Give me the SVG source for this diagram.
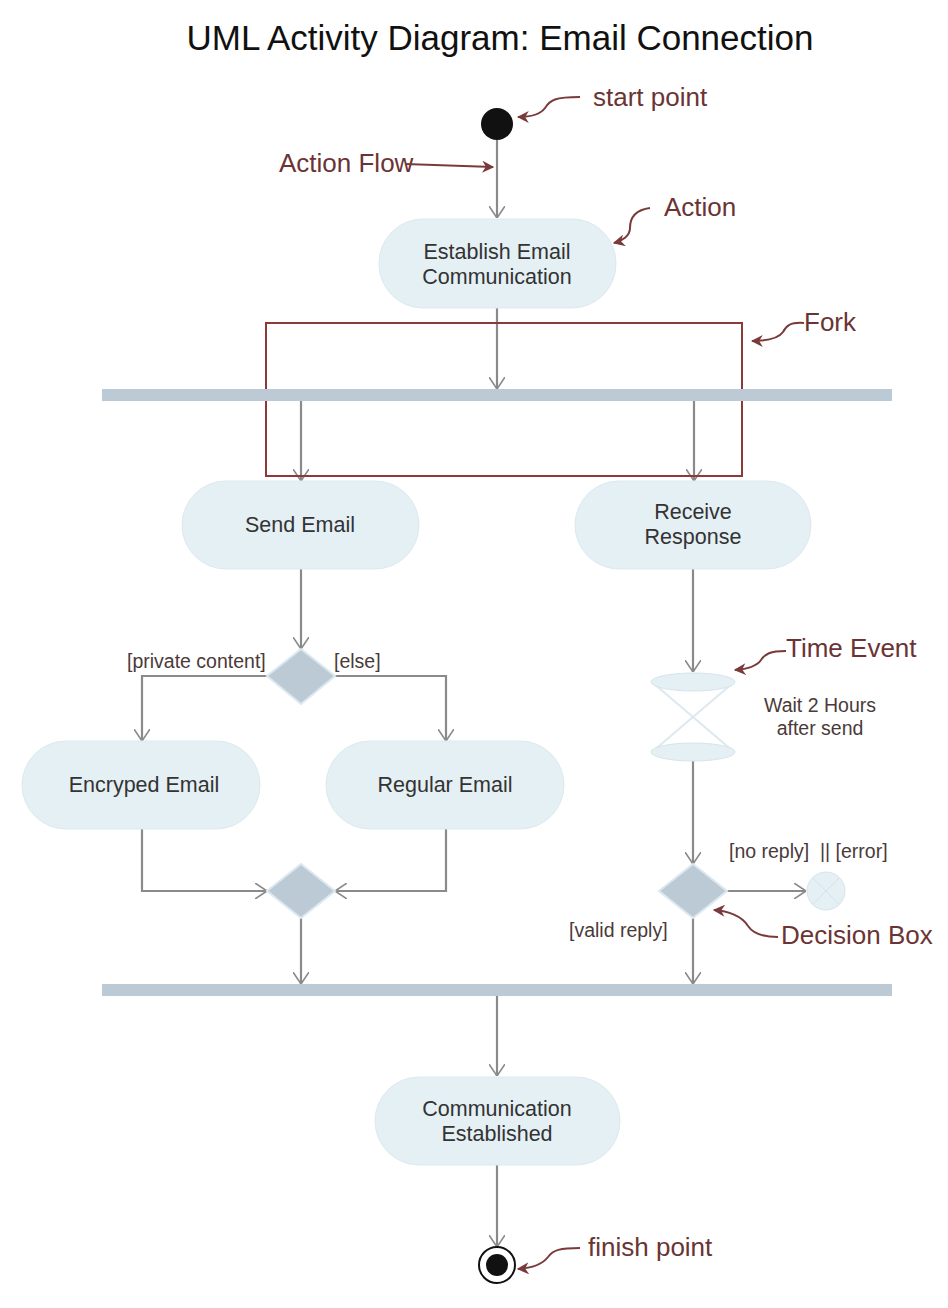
<svg xmlns="http://www.w3.org/2000/svg" width="948" height="1308" viewBox="0 0 948 1308">
<defs>
<marker id="open" viewBox="0 0 12 16" refX="12" refY="8" markerWidth="12" markerHeight="16" markerUnits="userSpaceOnUse" orient="auto">
<path d="M0,0 L12,8 L0,16" fill="none" stroke="#8a8a8a" stroke-width="1.6"/>
</marker>
<marker id="ann" viewBox="0 0 10 10" refX="9" refY="5" markerWidth="12" markerHeight="12" markerUnits="userSpaceOnUse" orient="auto">
<path d="M0,0 L10,5 L0,10 L3,5 Z" fill="#7a3a3a"/>
</marker>
<style>
.flow{fill:none;stroke:#8a8a8a;stroke-width:2.2}
.act{fill:#e5f0f5;stroke:#dde9ef;stroke-width:1}
.bar{fill:#bccad6}
.dia{fill:#bccad6;stroke:#dbe8ef;stroke-width:2}
.t{font-family:"Liberation Sans",Arial,sans-serif;font-size:21.5px;fill:#333;text-anchor:middle}
.g{font-family:"Liberation Sans",Arial,sans-serif;font-size:19.5px;fill:#4a3a3a}
.a{font-family:"Liberation Sans",Arial,sans-serif;font-size:26px;fill:#6b3434}
.al{fill:none;stroke:#7a3a3a;stroke-width:2}
</style>
</defs>
<rect width="948" height="1308" fill="#fff"/>
<text x="500" y="50" font-family="Liberation Sans,Arial,sans-serif" font-size="35" text-anchor="middle" fill="#111">UML Activity Diagram: Email Connection</text>

<g id="connectors">
<path class="flow" d="M497,140 V218" marker-end="url(#open)"/>
<path class="flow" d="M497,308 V389" marker-end="url(#open)"/>
<path class="flow" d="M301,401 V481" marker-end="url(#open)"/>
<path class="flow" d="M694,401 V481" marker-end="url(#open)"/>
<path class="flow" d="M301,569 V649" marker-end="url(#open)"/>
<path class="flow" d="M267,676 H142 V741" marker-end="url(#open)"/>
<path class="flow" d="M335,676 H446 V741" marker-end="url(#open)"/>
<path class="flow" d="M142,829 V891 H267" marker-end="url(#open)"/>
<path class="flow" d="M446,829 V891 H335" marker-end="url(#open)"/>
<path class="flow" d="M301,918 V984" marker-end="url(#open)"/>
<path class="flow" d="M693,569 V672" marker-end="url(#open)"/>
<path class="flow" d="M693,761 V864" marker-end="url(#open)"/>
<path class="flow" d="M727,891 H806" marker-end="url(#open)"/>
<path class="flow" d="M693,918 V984" marker-end="url(#open)"/>
<path class="flow" d="M497,996 V1076" marker-end="url(#open)"/>
<path class="flow" d="M497,1165 V1247" marker-end="url(#open)"/>
</g>

<g id="fork-highlight">
<rect x="266" y="323" width="476" height="153" fill="none" stroke="#8b3a3a" stroke-width="2"/>
</g>

<g id="start"><circle cx="497" cy="124" r="16" fill="#111"/></g>

<g id="establish">
<rect class="act" x="379" y="219" width="237" height="89" rx="44"/>
<text class="t" x="497" y="259">Establish Email</text>
<text class="t" x="497" y="284">Communication</text>
</g>

<g id="fork"><rect class="bar" x="102" y="389" width="790" height="12"/></g>

<g id="send">
<rect class="act" x="182" y="481" width="237" height="88" rx="44"/>
<text class="t" x="300" y="532">Send Email</text>
</g>

<g id="receive">
<rect class="act" x="575" y="481" width="236" height="88" rx="44"/>
<text class="t" x="693" y="519">Receive</text>
<text class="t" x="693" y="544">Response</text>
</g>

<g id="decision1">
<polygon class="dia" points="301,649 335,676 301,704 267,676"/>
<text class="g" x="127" y="668">[private content]</text>
<text class="g" x="334" y="668">[else]</text>
</g>

<g id="encrypted">
<rect class="act" x="22" y="741" width="238" height="88" rx="44"/>
<text class="t" x="144" y="792">Encryped Email</text>
</g>

<g id="regular">
<rect class="act" x="326" y="741" width="238" height="88" rx="44"/>
<text class="t" x="445" y="792">Regular Email</text>
</g>

<g id="merge">
<polygon class="dia" points="301,864 335,891 301,918 267,891"/>
</g>

<g id="time-event">
<path d="M652,682 L734,752 M734,682 L652,752" stroke="#dce9f0" stroke-width="2" fill="none"/>
<ellipse cx="693" cy="682" rx="42" ry="9" fill="#e5f0f5" stroke="#d6e4ec"/>
<ellipse cx="693" cy="752" rx="42" ry="9" fill="#e5f0f5" stroke="#d6e4ec"/>
<text class="g" x="820" y="712" text-anchor="middle">Wait 2 Hours</text>
<text class="g" x="820" y="735" text-anchor="middle">after send</text>
</g>

<g id="decision2">
<polygon class="dia" points="693,864 727,891 693,918 659,891"/>
<text class="g" x="729" y="858" style="white-space:pre">[no reply]  || [error]</text>
<text class="g" x="569" y="937">[valid reply]</text>
</g>

<g id="flow-final">
<circle cx="826" cy="891" r="19" fill="#e5f0f5" stroke="#d6e4ec"/>
<path d="M813,878 L839,904 M839,878 L813,904" stroke="#d3e2ea" stroke-width="1"/>
</g>

<g id="join"><rect class="bar" x="102" y="984" width="790" height="12"/></g>

<g id="established">
<rect class="act" x="375" y="1077" width="245" height="88" rx="44"/>
<text class="t" x="497" y="1116">Communication</text>
<text class="t" x="497" y="1141">Established</text>
</g>

<g id="finish">
<circle cx="497" cy="1265" r="18" fill="#fff" stroke="#111" stroke-width="2"/>
<circle cx="497" cy="1265" r="11" fill="#111"/>
</g>

<g id="annotations">
<text class="a" x="593" y="106">start point</text>
<path class="al" d="M580,97 C555,97 550,100 545,108 C540,115 530,117 518,117" marker-end="url(#ann)"/>
<text class="a" x="279" y="172">Action Flow</text>
<path class="al" d="M405,164 L493,167" marker-end="url(#ann)"/>
<text class="a" x="664" y="216">Action</text>
<path class="al" d="M650,208 C635,210 630,218 630,228 C630,236 622,241 614,243" marker-end="url(#ann)"/>
<text class="a" x="804" y="331">Fork</text>
<path class="al" d="M804,323 C790,322 786,326 783,332 C778,339 765,341 752,341" marker-end="url(#ann)"/>
<text class="a" x="786" y="657">Time Event</text>
<path class="al" d="M786,651 C770,651 765,654 761,660 C757,666 748,669 735,670" marker-end="url(#ann)"/>
<text class="a" x="781" y="944">Decision Box</text>
<path class="al" d="M778,937 C760,937 752,932 748,926 C742,916 728,911 714,910" marker-end="url(#ann)"/>
<text class="a" x="588" y="1256">finish point</text>
<path class="al" d="M580,1248 C560,1248 553,1250 548,1257 C542,1265 532,1268 518,1269" marker-end="url(#ann)"/>
</g>
</svg>
